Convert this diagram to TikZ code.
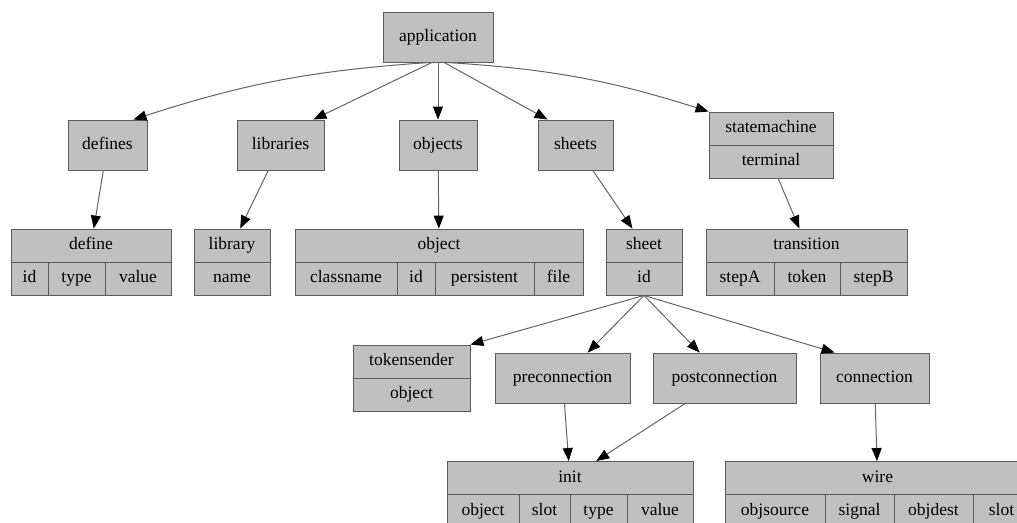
\documentclass[tikz,border=0pt]{standalone}
\usepackage{fontspec}
\setmainfont{Liberation Serif}
\usetikzlibrary{arrows.meta}
\definecolor{boxfill}{HTML}{C0C0C0}
\definecolor{boxline}{HTML}{5A5A5A}
\definecolor{edgeline}{HTML}{646464}
\tikzset{
  fld/.style={draw=boxline, fill=boxfill, line width=0.9pt, inner sep=0pt,
    minimum height=33pt, text height=12pt, text depth=4pt,
    font=\fontsize{17.5}{20}\selectfont},
  box/.style={fld, minimum height=50pt},
  edge/.style={draw=edgeline, line width=1pt,
    -{Triangle[length=13pt,width=10pt,color=black]}}
}

\begin{document}
\begin{tikzpicture}[x=1pt,y=-1pt]
    \useasboundingbox (0,0) rectangle (1017,522);

    \node[box, minimum width=110pt] (app) at (438,37) {application};

    \node[box, minimum width=79pt] (defs) at (107.5,145) {defines};
    \node[box, minimum width=87pt] (libs) at (280.5,145) {libraries};
    \node[box, minimum width=78pt] (objs) at (438,145) {objects};
    \node[box, minimum width=75pt] (shts) at (575.5,145) {sheets};
    \node[fld, minimum width=124pt] (sm) at (771,128.5) {statemachine};
    \node[fld, minimum width=124pt] (sm1) at (771,161.5) {terminal};

    % records of the third row
    \node[fld, minimum width=160pt] (def) at (91,245.5) {define};
    \node[fld, minimum width=37pt] (def1) at (29.5,278.5) {id};
    \node[fld, minimum width=57pt] (def2) at (76.5,278.5) {type};
    \node[fld, minimum width=66pt] (def3) at (138,278.5) {value};

    \node[fld, minimum width=76pt] (lib) at (232,245.5) {library};
    \node[fld, minimum width=76pt] (lib1) at (232,278.5) {name};

    \node[fld, minimum width=288pt] (obj) at (439,245.5) {object};
    \node[fld, minimum width=102pt] (obj1) at (346,278.5) {classname};
    \node[fld, minimum width=38pt] (obj2) at (416,278.5) {id};
    \node[fld, minimum width=99pt] (obj3) at (484.5,278.5) {persistent};
    \node[fld, minimum width=49pt] (obj4) at (558.5,278.5) {file};

    \node[fld, minimum width=76pt] (sht) at (644,245.5) {sheet};
    \node[fld, minimum width=76pt] (sht1) at (644,278.5) {id};

    \node[fld, minimum width=201pt] (tr) at (806.5,245.5) {transition};
    \node[fld, minimum width=68pt] (tr1) at (740,278.5) {stepA};
    \node[fld, minimum width=66pt] (tr2) at (807,278.5) {token};
    \node[fld, minimum width=67pt] (tr3) at (873.5,278.5) {stepB};

    % children of sheet
    \node[fld, minimum width=117pt] (tok) at (411.5,361.5) {tokensender};
    \node[fld, minimum width=117pt] (tok1) at (411.5,394.5) {object};
    \node[box, minimum width=135pt] (pre) at (562.5,378) {preconnection};
    \node[box, minimum width=143pt] (post) at (724.5,378) {postconnection};
    \node[box, minimum width=109pt] (con) at (874.5,378) {connection};

    \node[fld, minimum width=246pt] (ini) at (570,478) {init};
    \node[fld, minimum width=72pt] (ini1) at (483,511) {object};
    \node[fld, minimum width=51pt] (ini2) at (544.5,511) {slot};
    \node[fld, minimum width=57pt] (ini3) at (598.5,511) {type};
    \node[fld, minimum width=66pt] (ini4) at (660,511) {value};

    \node[fld, minimum width=305pt] (wir) at (877.5,478) {wire};
    \node[fld, minimum width=100pt] (wir1) at (775,511) {objsource};
    \node[fld, minimum width=69pt] (wir2) at (859.5,511) {signal};
    \node[fld, minimum width=79pt] (wir3) at (933.5,511) {objdest};
    \node[fld, minimum width=57pt] (wir4) at (1001.5,511) {slot};


    \draw[edge] ([xshift=-8pt]app.south) to[bend right=7] ([xshift=-14pt]defs.north east);
    \draw[edge] ([xshift=-6pt]app.south) -- ([xshift=-11pt]libs.north east);
    \draw[edge] (app) -- (objs);
    \draw[edge] ([xshift=6pt]app.south) -- ([xshift=10pt]shts.north west);
    \draw[edge] ([xshift=8pt]app.south) to[bend left=7] (sm.north west);

    \draw[edge] (defs) -- (def);
    \draw[edge] (libs) -- (lib);
    \draw[edge] (objs) -- (obj);
    \draw[edge] (shts) -- (sht);
    \draw[edge] (sm1) -- (tr);

    \draw[edge] (sht1.south) -- (tok.north east);
    \draw[edge] (sht1.south) -- (pre);
    \draw[edge] (sht1.south) -- (post);
    \draw[edge] (sht1.south) -- ([xshift=15pt]con.north west);

    \draw[edge] (pre) -- (ini);
    \draw[edge] (post) -- (ini);
    \draw[edge] (con) -- (wir);

\end{tikzpicture}
\end{document}
